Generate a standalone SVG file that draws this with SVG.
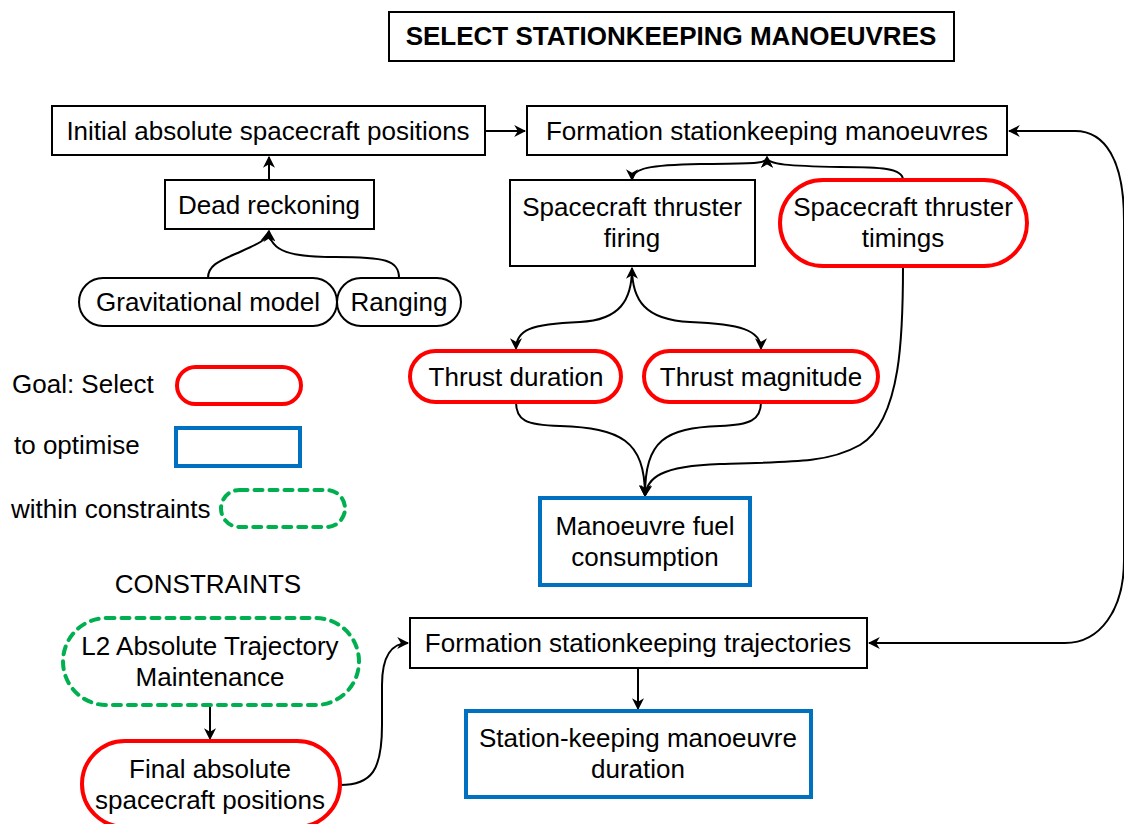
<svg xmlns="http://www.w3.org/2000/svg" width="1124" height="824" viewBox="0 0 1124 824">
  <defs>
    <marker id="arr" viewBox="0 0 10 10" refX="9" refY="5" markerWidth="12" markerHeight="12" markerUnits="userSpaceOnUse" orient="auto-start-reverse">
      <path d="M0,0 L10,5 L0,10 L3,5 z" fill="#000"/>
    </marker>
    <style>
      text { font-family: "Liberation Sans", Arial, sans-serif; font-size: 26px; fill: #000; text-anchor: middle; }
      .lg { text-anchor: start; }
      .title { font-weight: bold; font-size: 26px; }
      .box { fill: #fff; stroke: #000; stroke-width: 2; }
      .goal { fill: #fff; stroke: #ff0000; stroke-width: 4; }
      .opt { fill: #fff; stroke: #0070c0; stroke-width: 4; }
      .con { fill: #fff; stroke: #00b050; stroke-width: 4; stroke-dasharray: 8 7; stroke-linecap: round; }
      .edge { fill: none; stroke: #000; stroke-width: 2; }
    </style>
  </defs>
  <rect width="1124" height="824" fill="#fff"/>

  <g id="title">
    <rect class="box" x="389" y="12" width="565" height="49"/>
    <text class="title" x="671" y="45">SELECT STATIONKEEPING MANOEUVRES</text>
  </g>

  <g id="connectors">
    <path class="edge" d="M485,131 H525" marker-end="url(#arr)"/>
    <path class="edge" d="M269,180 V157" marker-end="url(#arr)"/>
    <path class="edge" d="M208,278 C208,264 222,260 242,251 C258,244 267,240 269,231" marker-end="url(#arr)"/>
    <path class="edge" d="M399,278 C399,260 385,257 335,257 C292,257 270,252 269,231" marker-end="url(#arr)"/>
    <path class="edge" d="M632,180 C632,168 650,165 700,164 C750,163 767,165 767,157" marker-start="url(#arr)" marker-end="url(#arr)"/>
    <path class="edge" d="M903,180 C903,168 880,167 840,167 C790,166 767,165 767,157" marker-end="url(#arr)"/>
    <path class="edge" d="M632,268 C632,300 620,320 580,322 C530,324 516,330 516,349" marker-start="url(#arr)" marker-end="url(#arr)"/>
    <path class="edge" d="M632,268 C632,300 645,320 690,322 C740,324 761,330 761,349" marker-end="url(#arr)"/>
    <path class="edge" d="M516,402 C516,420 525,425 560,426 C620,428 645,440 645,496" marker-end="url(#arr)"/>
    <path class="edge" d="M761,402 C761,420 750,425 720,426 C665,428 645,440 645,496" marker-end="url(#arr)"/>
    <path class="edge" d="M903,266 C903,330 902,420 860,445 C830,462 800,462 720,464 C660,466 647,478 645,496" marker-end="url(#arr)"/>
    <path class="edge" d="M1009,131 H1075 C1105,131 1124,160 1124,220 V560 C1124,610 1100,643 1065,643 H869" marker-start="url(#arr)" marker-end="url(#arr)"/>
    <path class="edge" d="M638,668 V709" marker-end="url(#arr)"/>
    <path class="edge" d="M210,705 V739" marker-end="url(#arr)"/>
    <path class="edge" d="M340,785 C372,785 382,770 382,725 V685 C382,656 392,643 408,643" marker-end="url(#arr)"/>
  </g>

  <g id="initial-positions">
    <rect class="box" x="52" y="106" width="433" height="49"/>
    <text x="268" y="140">Initial absolute spacecraft positions</text>
  </g>
  <g id="formation-manoeuvres">
    <rect class="box" x="527" y="106" width="480" height="49"/>
    <text x="767" y="140">Formation stationkeeping manoeuvres</text>
  </g>
  <g id="dead-reckoning">
    <rect class="box" x="165" y="180" width="209" height="49"/>
    <text x="269" y="214">Dead reckoning</text>
  </g>
  <g id="gravitational-model">
    <rect class="box" x="79" y="278" width="258" height="48" rx="24"/>
    <text x="208" y="311">Gravitational model</text>
  </g>
  <g id="ranging">
    <rect class="box" x="337" y="278" width="124" height="48" rx="24"/>
    <text x="399" y="311">Ranging</text>
  </g>
  <g id="thruster-firing">
    <rect class="box" x="510" y="180" width="245" height="86"/>
    <text x="632" y="216">Spacecraft thruster</text>
    <text x="632" y="247">firing</text>
  </g>
  <g id="thruster-timings">
    <rect class="goal" x="780" y="180" width="247" height="86" rx="43"/>
    <text x="903" y="216">Spacecraft thruster</text>
    <text x="903" y="247">timings</text>
  </g>
  <g id="thrust-duration">
    <rect class="goal" x="410" y="351" width="211" height="51" rx="25.5"/>
    <text x="516" y="386">Thrust duration</text>
  </g>
  <g id="thrust-magnitude">
    <rect class="goal" x="644" y="351" width="234" height="51" rx="25.5"/>
    <text x="761" y="386">Thrust magnitude</text>
  </g>
  <g id="fuel-consumption">
    <rect class="opt" x="540" y="498" width="210" height="87"/>
    <text x="645" y="535">Manoeuvre fuel</text>
    <text x="645" y="566">consumption</text>
  </g>

  <g id="legend">
    <text class="lg" x="12" y="393">Goal: Select</text>
    <rect class="goal" x="177" y="367" width="124" height="37" rx="18.5"/>
    <text class="lg" x="14" y="454">to optimise</text>
    <rect class="opt" x="176" y="428" width="124" height="38"/>
    <text class="lg" x="11" y="518">within constraints</text>
    <rect class="con" x="221" y="490" width="124" height="37" rx="18.5"/>
  </g>

  <g id="constraints-heading">
    <text x="208" y="593">CONSTRAINTS</text>
  </g>
  <g id="l2-maintenance">
    <rect class="con" x="63" y="618" width="296" height="87" rx="43.5"/>
    <text x="210" y="655">L2 Absolute Trajectory</text>
    <text x="210" y="686">Maintenance</text>
  </g>
  <g id="final-positions">
    <rect class="goal" x="82" y="741" width="258" height="86" rx="43"/>
    <text x="210" y="778">Final absolute</text>
    <text x="210" y="809">spacecraft positions</text>
  </g>
  <g id="formation-trajectories">
    <rect class="box" x="410" y="618" width="457" height="50"/>
    <text x="638" y="652">Formation stationkeeping trajectories</text>
  </g>
  <g id="manoeuvre-duration">
    <rect class="opt" x="466" y="711" width="345" height="86"/>
    <text x="638" y="747">Station-keeping manoeuvre</text>
    <text x="638" y="778">duration</text>
  </g>
</svg>
